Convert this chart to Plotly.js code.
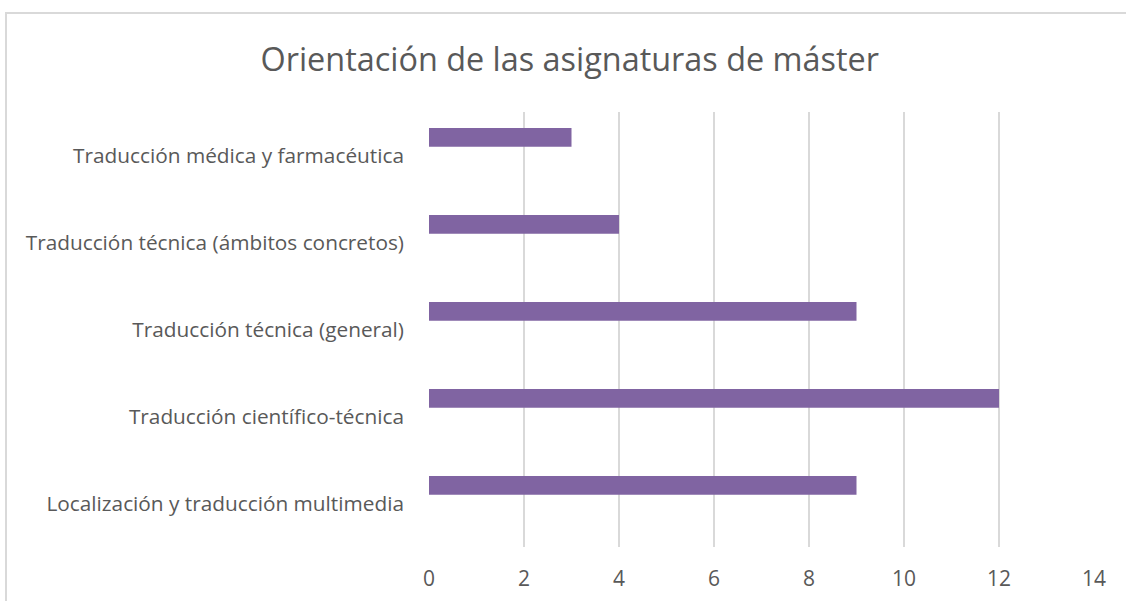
<!DOCTYPE html>
<html>
<head>
<meta charset="utf-8">
<script src="https://cdn.plot.ly/plotly-3.0.1.min.js"></script>
<style>
  html, body { margin: 0; padding: 0; background: #fff; overflow: hidden; }
  #frame { position: absolute; left: 5px; top: 12px; width: 1200px; height: 700px;
           border-left: 2px solid #d9d9d9; border-top: 2px solid #d9d9d9; }
  #chart { position: absolute; left: 0; top: 0; width: 1126px; height: 601px; }
</style>
</head>
<body>
<div id="frame"></div>
<div id="chart"></div>
<script>
const categories = [
  "Localización y traducción multimedia",
  "Traducción científico-técnica",
  "Traducción técnica (general)",
  "Traducción técnica (ámbitos concretos)",
  "Traducción médica y farmacéutica"
];
const values = [9, 12, 9, 4, 3];
const xTicks = [0, 2, 4, 6, 8, 10, 12, 14];
const titleText = "Orientación de las asignaturas de máster";

const fontFam = "'Open Sans', 'Noto Sans', sans-serif";
const textColor = "#595959";

const trace = {
  type: "bar",
  orientation: "h",
  y: categories,
  x: values,
  offset: 0.101,
  width: 0.215,
  marker: { color: "#8064A2" },
  hoverinfo: "x+y"
};

const layout = {
  width: 1126,
  height: 601,
  margin: { l: 429, r: 32, t: 112, b: 54, pad: 0 },
  paper_bgcolor: "rgba(0,0,0,0)",
  plot_bgcolor: "rgba(0,0,0,0)",
  showlegend: false,
  title: {
    text: titleText,
    font: { family: fontFam, size: 32.4, color: textColor },
    x: 0.506, xanchor: "center",
    y: 0.9, yanchor: "middle",
    xref: "container", yref: "container"
  },
  xaxis: {
    range: [0, 14],
    tickvals: xTicks,
    ticktext: xTicks.map(String),
    showgrid: true,
    gridcolor: "#d9d9d9",
    gridwidth: 1.5,
    zeroline: false,
    showline: false,
    ticks: "",
    ticklabelstandoff: 17,
    tickfont: { family: fontFam, size: 21, color: textColor },
    fixedrange: true
  },
  yaxis: {
    type: "category",
    categoryorder: "array",
    categoryarray: categories,
    range: [-0.5, 4.5],
    showgrid: false,
    zeroline: false,
    showline: false,
    ticks: "",
    ticklabelstandoff: 24,
    tickfont: { family: fontFam, size: 20.8, color: textColor },
    fixedrange: true
  }
};

Plotly.newPlot("chart", [trace], layout, { displayModeBar: false, staticPlot: true });
</script>
</body>
</html>
